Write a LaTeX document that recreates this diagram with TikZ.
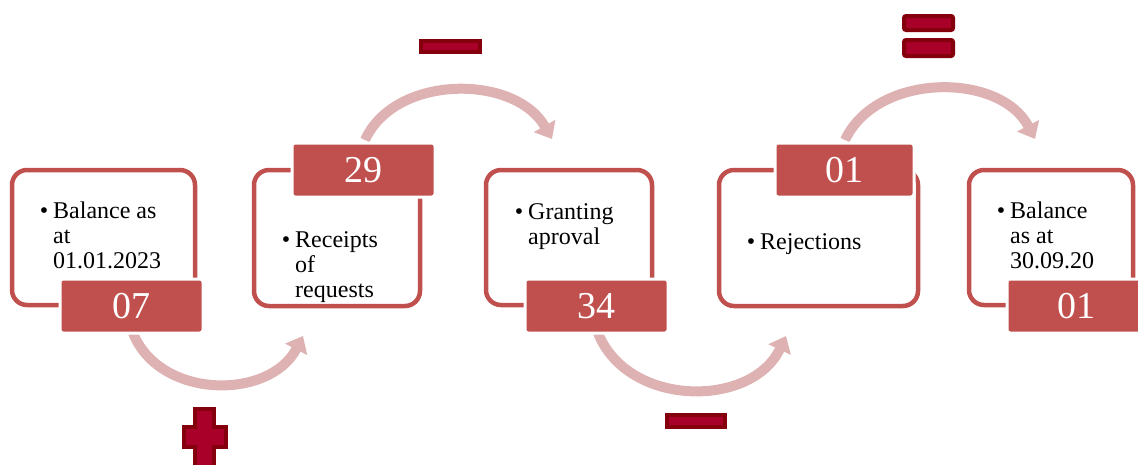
\documentclass[tikz,border=0pt]{standalone}
\usepackage{fontspec}
\setmainfont{Liberation Serif}
\usetikzlibrary{arrows.meta}
\definecolor{boxred}{RGB}{192,80,77}
\definecolor{flowpink}{RGB}{222,178,178}
\definecolor{signdark}{RGB}{132,0,12}
\definecolor{signmid}{RGB}{168,0,40}
\tikzset{
  frame/.style={draw=boxred,line width=4.5pt,rounded corners=15pt},
  numbox/.style={fill=boxred,draw=white,line width=3pt,rounded corners=3pt},
  numtext/.style={text=white,font=\fontsize{38}{40}\selectfont},
  itemtext/.style={anchor=base west,inner sep=0pt,font=\fontsize{24}{25}\selectfont},
  flow/.style={draw=flowpink,line width=10pt,-{Triangle[width=24pt,length=15pt]}},
  sign/.style={fill=signmid,draw=signdark,line width=4pt}
}
\newcommand{\itm}{\llap{\textbullet\hspace{5pt}}}
\begin{document}
\begin{tikzpicture}[x=1pt,y=-1pt]
\useasboundingbox (0,0) rectangle (1138,464);

% curved flow arrows (behind the boxes)
\coordinate (f1s) at (133,333); \coordinate (f1e) at (303,336);
\coordinate (f2s) at (365,140); \coordinate (f2e) at (552,139);
\coordinate (f3s) at (598,333); \coordinate (f3e) at (786,336);
\coordinate (f4s) at (845,140); \coordinate (f4e) at (1035,139);
\draw[flow] (f1s) .. controls (160,400) and (270,400) .. (f1e);
\draw[flow] (f2s) .. controls (395,74) and (515,74) .. (f2e);
\draw[flow] (f3s) .. controls (628,408) and (752,408) .. (f3e);
\draw[flow] (f4s) .. controls (877,72) and (1000,72) .. (f4e);

% framed step boxes
\draw[frame] (12,170) rectangle (195,305);
\draw[frame] (254,170) rectangle (420,306);
\draw[frame] (486,170) rectangle (652,305);
\draw[frame] (719,170) rectangle (918,306);
\draw[frame] (969,170) rectangle (1133,305);

% number boxes
\draw[numbox] (60,279) rectangle (203,333);
\node[numtext] (n1) at (131.5,306) {07};
\draw[numbox] (292,143) rectangle (435,197);
\node[numtext] (n2) at (363.5,170) {29};
\draw[numbox] (775,143) rectangle (914,197);
\node[numtext] (n4) at (844.5,170) {01};
\draw[numbox] (525,279) rectangle (668,333);
\node[numtext] (n3) at (596.5,306) {34};
\draw[numbox] (1007,279) rectangle (1150,333);
\node[numtext] (n5) at (1076,306) {01};

% item texts
\node[itemtext] (t1) at (53,218) {\begin{tabular}[t]{@{}l@{}}\itm Balance as\\ at\\ 01.01.2023\end{tabular}};
\node[itemtext] (t2) at (295,247) {\begin{tabular}[t]{@{}l@{}}\itm Receipts\\ of\\ requests\end{tabular}};
\node[itemtext] (t3) at (528,219) {\begin{tabular}[t]{@{}l@{}}\itm Granting\\ aproval\end{tabular}};
\node[itemtext] (t4) at (760,249) {\begin{tabular}[t]{@{}l@{}}\itm Rejections\end{tabular}};
\node[itemtext] (t5) at (1010,218) {\begin{tabular}[t]{@{}l@{}}\itm Balance\\ as at\\ 30.09.20\end{tabular}};

% operation signs
\draw[sign] (421,41) rectangle (480,52);
\draw[sign] (667,415) rectangle (725,427);
\draw[sign] (195,409) -- (214,409) -- (214,427) -- (226,427) -- (226,447)
  -- (214,447) -- (214,470) -- (195,470) -- (195,447) -- (184,447)
  -- (184,427) -- (195,427) -- cycle;
\draw[sign,rounded corners=2pt] (904,16) rectangle (953,30);
\draw[sign,rounded corners=2pt] (904,40) rectangle (953,56);
\end{tikzpicture}
\end{document}
